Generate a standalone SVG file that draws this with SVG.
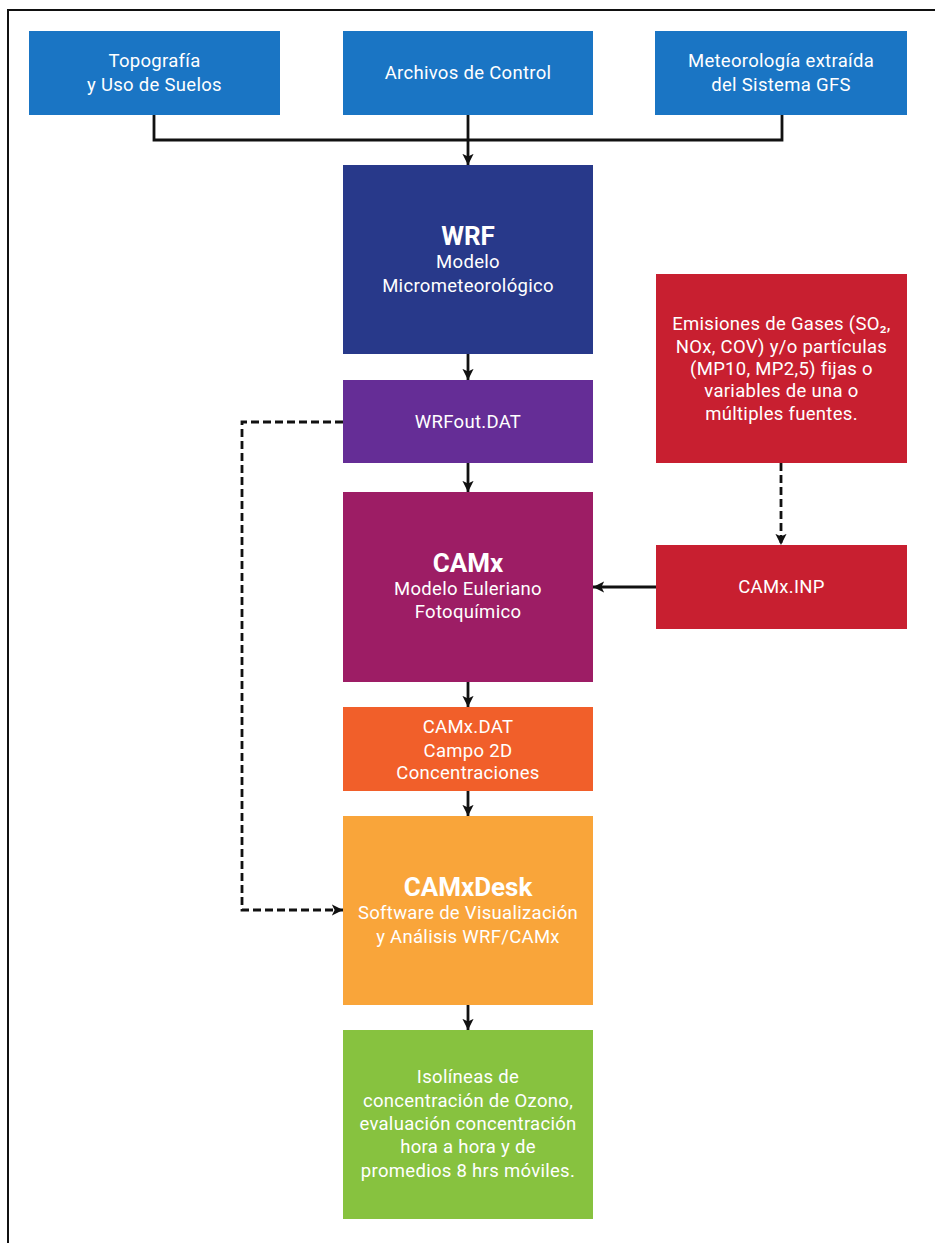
<svg xmlns="http://www.w3.org/2000/svg" width="935" height="1243" viewBox="0 0 935 1243">
<defs>
<marker id="ah" viewBox="0 0 10 10" refX="10" refY="5" markerWidth="4" markerHeight="4" orient="auto" markerUnits="strokeWidth">
<path d="M0,0 L10,5 L0,10 L2.5,5 Z" fill="#111"/>
</marker>
<style>
.t{font-family:Roboto,"Liberation Sans",sans-serif;font-size:18.5px;letter-spacing:0.3px;fill:#fff;text-anchor:middle}
.b{font-family:Roboto,"Liberation Sans",sans-serif;font-size:26px;font-weight:bold;fill:#fff;text-anchor:middle}
.c{fill:none;stroke:#111;stroke-width:2.8}
.d{fill:none;stroke:#111;stroke-width:2.8;stroke-dasharray:8,4}
</style>
</defs>
<rect width="935" height="1243" fill="#fff"/>
<path d="M8,1243 V10 H935" fill="none" stroke="#111" stroke-width="2"/>

<g id="topografia">
<rect x="29" y="31" width="251" height="84" fill="#1a75c4"/>
<text class="t" x="154.5" y="67">Topografía</text>
<text class="t" x="154.5" y="91">y Uso de Suelos</text>
</g>
<g id="archivos">
<rect x="343" y="31" width="250" height="84" fill="#1a75c4"/>
<text class="t" x="468" y="79">Archivos de Control</text>
</g>
<g id="meteorologia">
<rect x="655" y="31" width="252" height="84" fill="#1a75c4"/>
<text class="t" x="781" y="67">Meteorología extraída</text>
<text class="t" x="781" y="91">del Sistema GFS</text>
</g>
<g id="wrf">
<rect x="343" y="165" width="250" height="189" fill="#28398a"/>
<text class="b" x="468" y="245">WRF</text>
<text class="t" x="468" y="268">Modelo</text>
<text class="t" x="468" y="292">Micrometeorológico</text>
</g>
<g id="wrfout">
<rect x="343" y="380" width="250" height="83" fill="#652d96"/>
<text class="t" x="468" y="428">WRFout.DAT</text>
</g>
<g id="emisiones">
<rect x="656" y="274" width="251" height="189" fill="#c81f30"/>
<text class="t" x="781.5" y="330">Emisiones de Gases (SO₂,</text>
<text class="t" x="781.5" y="353">NOx, COV) y/o partículas</text>
<text class="t" x="781.5" y="375">(MP10, MP2,5) fijas o</text>
<text class="t" x="781.5" y="397">variables de una o</text>
<text class="t" x="781.5" y="420">múltiples fuentes.</text>
</g>
<g id="camxinp">
<rect x="656" y="545" width="251" height="84" fill="#c81f30"/>
<text class="t" x="781.5" y="593">CAMx.INP</text>
</g>
<g id="camx">
<rect x="343" y="492" width="250" height="190" fill="#9d1d65"/>
<text class="b" x="468" y="572">CAMx</text>
<text class="t" x="468" y="595">Modelo Euleriano</text>
<text class="t" x="468" y="618">Fotoquímico</text>
</g>
<g id="camxdat">
<rect x="343" y="707" width="250" height="84" fill="#f15f2a"/>
<text class="t" x="468" y="733">CAMx.DAT</text>
<text class="t" x="468" y="757">Campo 2D</text>
<text class="t" x="468" y="779">Concentraciones</text>
</g>
<g id="camxdesk">
<rect x="343" y="816" width="250" height="189" fill="#f9a53a"/>
<text class="b" x="468" y="896">CAMxDesk</text>
<text class="t" x="468" y="919">Software de Visualización</text>
<text class="t" x="468" y="943">y Análisis WRF/CAMx</text>
</g>
<g id="resultado">
<rect x="343" y="1030" width="250" height="189" fill="#87c23f"/>
<text class="t" x="468" y="1083">Isolíneas de</text>
<text class="t" x="468" y="1107">concentración de Ozono,</text>
<text class="t" x="468" y="1130">evaluación concentración</text>
<text class="t" x="468" y="1153">hora a hora y de</text>
<text class="t" x="468" y="1177">promedios 8 hrs móviles.</text>
</g>

<g id="connectors">
<path class="c" d="M154,115 V140 H782 V115"/>
<path class="c" d="M468,115 V165" marker-end="url(#ah)"/>
<path class="c" d="M468,354 V380" marker-end="url(#ah)"/>
<path class="c" d="M468,463 V492" marker-end="url(#ah)"/>
<path class="c" d="M468,682 V707" marker-end="url(#ah)"/>
<path class="c" d="M468,791 V816" marker-end="url(#ah)"/>
<path class="c" d="M468,1005 V1030" marker-end="url(#ah)"/>
<path class="c" d="M656,587 H593" marker-end="url(#ah)"/>
<path class="d" d="M781,463 V545" marker-end="url(#ah)"/>
<path class="d" d="M343,422 H242 V910 H343" marker-end="url(#ah)"/>
</g>
</svg>
